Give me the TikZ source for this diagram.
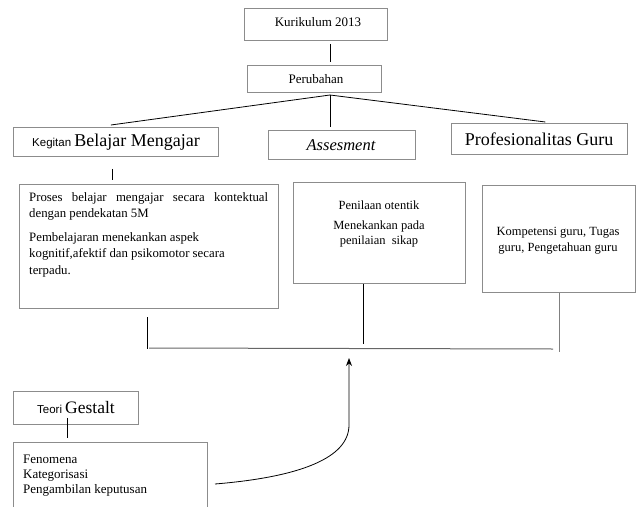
\documentclass[tikz,border=0pt]{standalone}
\usepackage{fontspec}
\setmainfont{Liberation Serif}
\newfontfamily\sansf{Liberation Sans}
\usetikzlibrary{arrows.meta,calc}
\tikzset{
  box/.style={draw=black!45, line width=0.8pt, rectangle, inner sep=0pt, anchor=north west},
  conn/.style={draw=black, line width=0.8pt},
  txt/.style={inner sep=0pt, font=\fontsize{12.5}{15}\selectfont},
}
\begin{document}
\begin{tikzpicture}[x=1pt,y=-1pt]
\useasboundingbox (0,0) rectangle (637,506);
% boxes
\node[box, minimum width=143pt, minimum height=32pt] (k13) at (244,8) {};
\node[box, minimum width=134pt, minimum height=27pt] (perub) at (247,65) {};
\node[box, minimum width=205pt, minimum height=29pt] (kbm) at (13,127) {};
\node[box, minimum width=147pt, minimum height=29pt] (ases) at (268,130) {};
\node[box, minimum width=176pt, minimum height=31pt] (prof) at (451,123) {};
\node[box, minimum width=259pt, minimum height=124pt] (proses) at (19,184) {};
\node[box, minimum width=172pt, minimum height=101pt] (nilai) at (293,182) {};
\node[box, minimum width=153pt, minimum height=107pt] (komp) at (482,185) {};
\node[box, minimum width=125pt, minimum height=33pt] (teori) at (13,391) {};
\node[box, minimum width=194pt, minimum height=90pt] (feno) at (13,442) {};
% texts
\node[txt, font=\fontsize{13}{15}\selectfont] (t1) at (318,22) {Kurikulum 2013};
\node[txt, font=\fontsize{13}{15}\selectfont] (t2) at (316,79) {Perubahan};
\node[txt] (t3) at (116,142) {{\sansf\fontsize{11.5}{12}\selectfont Kegitan} {\fontsize{18}{20}\selectfont Belajar Mengajar}};
\node[txt, font=\fontsize{16.5}{18}\selectfont\itshape] (t4) at (341,145) {Assesment};
\node[txt, font=\fontsize{18}{20}\selectfont] (t5) at (539,139) {Profesionalitas Guru};
\node[txt, anchor=north west, align=left, font=\fontsize{12.8}{16}\selectfont] (t6) at (29,192)
  {\makebox[239pt][s]{Proses belajar mengajar secara kontektual}\\dengan pendekatan 5M};
\node[txt, anchor=north west, align=left, font=\fontsize{12.8}{16.5}\selectfont] (t7) at (29,232)
  {Pembelajaran menekankan aspek\\kognitif,afektif dan psikomotor secara\\terpadu.};
\node[txt, align=center, font=\fontsize{12.5}{15}\selectfont] (t8) at (379,205) {Penilaan otentik};
\node[txt, align=center, font=\fontsize{12.5}{15.5}\selectfont] (t9) at (379,234) {Menekankan pada\\penilaian\ \ sikap};
\node[txt, align=center, font=\fontsize{12.5}{16}\selectfont] (t10) at (558,241) {Kompetensi guru, Tugas\\guru, Pengetahuan guru};
\node[txt] (t11) at (76,408) {{\sansf\fontsize{11.5}{12}\selectfont Teori} {\fontsize{17.5}{19}\selectfont Gestalt}};
\node[txt, anchor=north west, align=left, font=\fontsize{13}{15}\selectfont] (t12) at (23,455)
  {Fenomena\\Kategorisasi\\Pengambilan keputusan};
% connectors top
\coordinate (hub) at (330,95);
\draw[conn] (hub |- k13.south) ++(0,3) -- ($(hub |- perub.north)+(0,-3)$);
\draw[conn] (hub) -- ($(kbm.north)+(-5,-2)$);
\draw[conn] (hub) -- ($(hub |- ases.north)+(0,-3)$);
\draw[conn] (hub) -- ($(prof.north)+(6,-1)$);
\draw[conn] ($(kbm.south)+(-4,12)$) -- ($(kbm.south)+(-4,23)$);
% lower connectors
\coordinate (hl) at (149,348);
\coordinate (hr) at (553,349);
\draw[conn] (147,317) -- (147,349);
\draw[conn] ($(nilai.south)+(-16,0)$) -- ($(nilai.south)+(-16,60)$);
\draw[draw=black!50, line width=0.8pt] (komp.south) -- ++(0,59);
\draw[draw=black!60, line width=1pt] (hl) -- (hr);
% Gestalt
\draw[conn] ($(teori.south)+(-9,-7)$) -- ($(teori.south)+(-9,13)$);
\coordinate (cstart) at (215,484);
\coordinate (ctip) at (349,358);
\draw[conn, -{Stealth[length=8pt,width=6pt]}] (cstart) .. controls (300,477) and (349,458) .. (349,425) -- (ctip);
\end{tikzpicture}
\end{document}
